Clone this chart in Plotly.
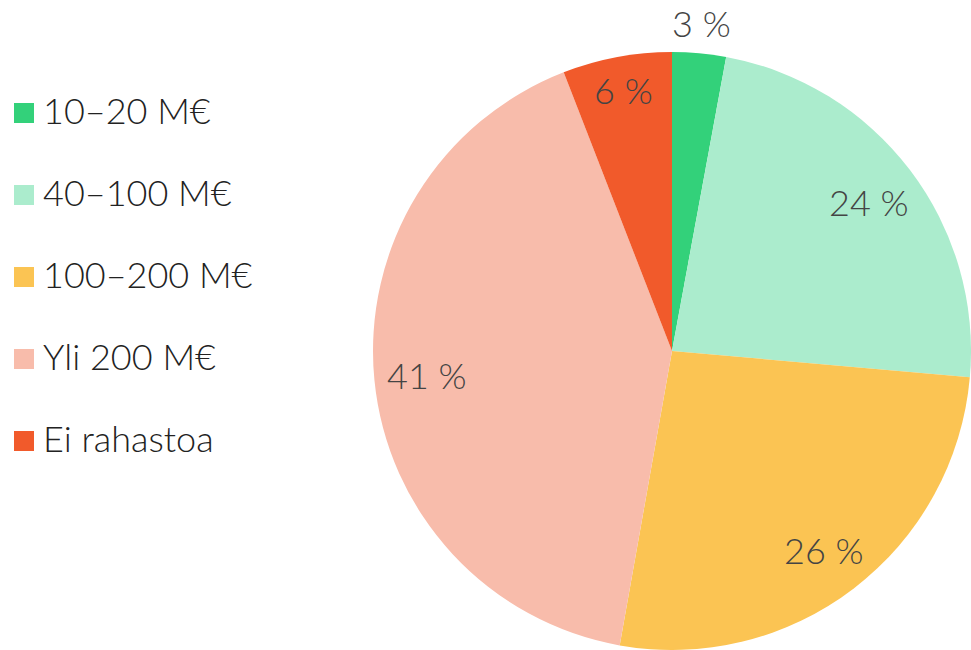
import math
import plotly.graph_objects as go

# ---- data ----
categories = ["10–20 M€", "40–100 M€", "100–200 M€", "Yli 200 M€", "Ei rahastoa"]
values = [2.9, 23.5, 26.4, 41.3, 5.9]
value_labels = ["3 %", "24 %", "26 %", "41 %", "6 %"]
colors = ["#33d17a", "#abeccd", "#fbc453", "#f8bcab", "#f15a2b"]

W, H = 971, 650
FONT = "Lato"
LABEL_SIZE = 36

# pie placement (pixels)
x0_px, x1_px = 373, 971
y_dom = [0.0, 598 / H]
R = (x1_px - x0_px) / 2
cx = (x0_px + x1_px) / 2
cy = H - (y_dom[0] + y_dom[1]) / 2 * H  # from top

fig = go.Figure()
fig.add_trace(go.Pie(
    labels=categories,
    values=values,
    marker=dict(colors=colors, line=dict(width=0)),
    sort=False,
    direction="clockwise",
    rotation=0,
    textinfo="none",
    hoverinfo="label+percent",
    showlegend=False,
    domain=dict(x=[x0_px / W, x1_px / W], y=y_dom),
))

annotations = []
total = sum(values)
cum = 0.0
D = 0.955 * R  # distance of the label box's outer corner from the centre
for i, (v, lab) in enumerate(zip(values, value_labels)):
    mid = (cum + v / 2) / total
    cum += v
    theta = 2 * math.pi * mid
    s, c = math.sin(theta), -math.cos(theta)  # screen direction (y down)
    frac = v / total
    if frac < 0.04:
        rl = 1.10 * R
    else:
        hw = len(lab) * 9.4
        hh = 14
        a = math.copysign(hw, s)
        b = math.copysign(hh, c)
        k = s * a + c * b
        rl = -k + math.sqrt(k * k - (a * a + b * b - D * D))
    px = cx + rl * s
    py = cy + rl * c
    annotations.append(dict(
        x=px / W, y=1 - py / H, xref="paper", yref="paper",
        text=lab, showarrow=False, xanchor="center", yanchor="middle",
        font=dict(family=FONT, size=LABEL_SIZE, color="#444444", weight=300),
    ))

# legend (manual, to match square size and spacing)
shapes = []
leg_top = 113
leg_step = 82
for i, (cat, col) in enumerate(zip(categories, colors)):
    yc = leg_top + i * leg_step
    shapes.append(dict(
        type="rect", xref="paper", yref="paper",
        x0=14 / W, x1=34 / W, y0=1 - (yc + 10) / H, y1=1 - (yc - 10) / H,
        fillcolor=col, line=dict(width=0),
    ))
    annotations.append(dict(
        x=41 / W, y=1 - (yc - 3) / H, xref="paper", yref="paper",
        text=cat, showarrow=False, xanchor="left", yanchor="middle",
        font=dict(family=FONT, size=36, color="#222222", weight=300),
    ))

fig.update_layout(
    width=W, height=H,
    margin=dict(l=0, r=0, t=0, b=0),
    paper_bgcolor="white",
    plot_bgcolor="white",
    annotations=annotations,
    shapes=shapes,
    font=dict(family=FONT),
)

fig.write_html(
    "out.html",
    config={"displayModeBar": False},
    post_script="document.body.style.margin='0';document.body.style.overflow='hidden';",
)
